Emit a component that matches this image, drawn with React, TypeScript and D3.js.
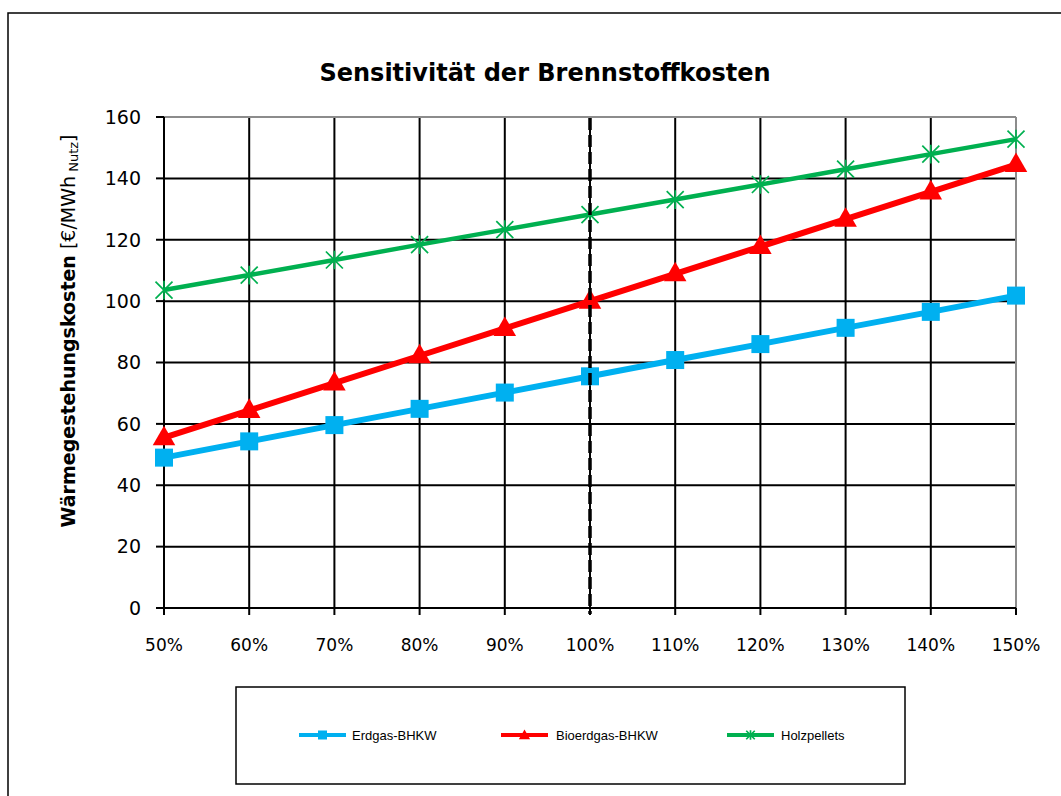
import React from "react";
import * as d3 from "d3";

const categories = ["50%", "60%", "70%", "80%", "90%", "100%", "110%", "120%", "130%", "140%", "150%"];
const erdgas = [49.0, 54.3, 59.6, 64.9, 70.2, 75.5, 80.8, 86.0, 91.3, 96.5, 101.8];
const bioerdgas = [55.5, 64.4, 73.3, 82.2, 91.1, 100.0, 108.9, 117.8, 126.7, 135.6, 144.5];
const holzpellets = [103.6, 108.5, 113.4, 118.4, 123.3, 128.2, 133.1, 138.0, 143.0, 147.9, 152.8];
const yTicks = [0, 20, 40, 60, 80, 100, 120, 140, 160];
const referenceCategory = "100%";
const title = "Sensitivität der Brennstoffkosten";

const FONT = "'DejaVu Sans', Verdana, sans-serif";

type SeriesDef = { name: string; values: number[]; color: string; width: number; marker: "square" | "triangle" | "star" };
const series: SeriesDef[] = [
  { name: "Bioerdgas-BHKW", values: bioerdgas, color: "#FF0000", width: 6, marker: "triangle" },
  { name: "Erdgas-BHKW", values: erdgas, color: "#00B0F0", width: 6, marker: "square" },
  { name: "Holzpellets", values: holzpellets, color: "#00B050", width: 4.5, marker: "star" },
];
const legendOrder = ["Erdgas-BHKW", "Bioerdgas-BHKW", "Holzpellets"];

function Marker({ kind, x, y, color, scale = 1 }: { kind: string; x: number; y: number; color: string; scale?: number }) {
  if (kind === "square") {
    const s = 18 * scale;
    return <rect x={x - s / 2} y={y - s / 2} width={s} height={s} fill={color} />;
  }
  if (kind === "triangle") {
    const p = d3.symbol(d3.symbolTriangle, 220 * scale * scale)();
    return <path d={p || ""} transform={`translate(${x},${y + 1})`} fill={color} />;
  }
  const r = 8.5 * scale;
  const d = `M${-r},${-r}L${r},${r}M${-r},${r}L${r},${-r}M0,${-r * 1.1}L0,${r * 1.1}`;
  return <path d={d} transform={`translate(${x},${y})`} stroke={color} strokeWidth={1.7} fill="none" />;
}

export default function App() {
  const left = 164, right = 1016, top = 117, bottom = 608;
  const x = d3.scalePoint<string>().domain(categories).range([left, right]);
  const y = d3.scaleLinear().domain([0, 160]).range([bottom, top]);

  const line = (vals: number[]) =>
    d3.line<number>().x((_, i) => x(categories[i]) as number).y((v) => y(v))(vals) || "";

  const legendY = 735;
  const legendItems = [
    { lx: 299, tx: 352 },
    { lx: 501, tx: 556 },
    { lx: 727, tx: 781 },
  ];

  return (
    <svg width={1061} height={796} style={{ position: "fixed", left: 0, top: 0, background: "#fff" }}>
      <rect x={0} y={0} width={1061} height={796} fill="#fff" />
      <rect x={8} y={13} width={1200} height={900} fill="#fff" stroke="#000" strokeWidth={1.5} />

      <text x={545} y={81} textAnchor="middle" fontFamily={FONT} fontWeight="bold" fontSize={24} fill="#000">
        {title}
      </text>

      {yTicks.filter((t) => t > 0 && t < 160).map((t) => (
        <line key={"h" + t} x1={left} x2={right} y1={y(t)} y2={y(t)} stroke="#000" strokeWidth={2} />
      ))}
      {categories.slice(1, -1).map((c) => (
        <line key={"v" + c} x1={x(c)} x2={x(c)} y1={top} y2={bottom} stroke="#000" strokeWidth={2} />
      ))}
      <line x1={left} x2={right} y1={top} y2={top} stroke="#8c8c8c" strokeWidth={2} />
      <line x1={right} x2={right} y1={top} y2={bottom} stroke="#8c8c8c" strokeWidth={2} />

      <line x1={left} x2={left} y1={top} y2={bottom} stroke="#000" strokeWidth={2} />
      <line x1={left} x2={right} y1={bottom} y2={bottom} stroke="#000" strokeWidth={2} />
      {yTicks.map((t) => (
        <g key={"yt" + t}>
          <line x1={left - 8} x2={left} y1={y(t)} y2={y(t)} stroke="#000" strokeWidth={2} />
          <text x={141} y={y(t)} dy="0.36em" textAnchor="end" fontFamily={FONT} fontSize={19} fill="#000">
            {t}
          </text>
        </g>
      ))}
      {categories.map((c) => (
        <g key={"xt" + c}>
          <line x1={x(c)} x2={x(c)} y1={bottom} y2={bottom + 7} stroke="#000" strokeWidth={2} />
          <text x={x(c)} y={645} dy="0.36em" textAnchor="middle" fontFamily={FONT} fontSize={17} fill="#000">
            {c}
          </text>
        </g>
      ))}

      <text
        transform={`translate(68,331) rotate(-90)`}
        textAnchor="middle"
        dy="0.35em"
        fontFamily={FONT}
        fontSize={19}
        fill="#000"
      >
        <tspan fontWeight="bold">Wärmegestehungskosten</tspan>
        <tspan> [€/MWh</tspan>
        <tspan fontSize={13} dy="3"> Nutz</tspan>
        <tspan dy="-3">]</tspan>
      </text>

      {series.map((s) => (
        <g key={s.name}>
          <path d={line(s.values)} fill="none" stroke={s.color} strokeWidth={s.width} strokeLinejoin="round" />
          {s.values.map((v, i) => (
            <Marker key={i} kind={s.marker} x={x(categories[i]) as number} y={y(v)} color={s.color} />
          ))}
        </g>
      ))}

      <line
        x1={x(referenceCategory)}
        x2={x(referenceCategory)}
        y1={top + 1}
        y2={bottom + 6}
        stroke="#000"
        strokeWidth={3.5}
        strokeDasharray="12 5"
      />

      <rect x={236} y={687} width={669} height={97} fill="#fff" stroke="#000" strokeWidth={1.5} />
      {legendOrder.map((name, i) => {
        const s = series.find((d) => d.name === name)!;
        const it = legendItems[i];
        return (
          <g key={"lg" + name}>
            <line x1={it.lx} x2={it.lx + 47} y1={legendY} y2={legendY} stroke={s.color} strokeWidth={4} />
            <Marker kind={s.marker} x={it.lx + 23.5} y={legendY} color={s.color} scale={0.5} />
            <text x={it.tx} y={legendY} dy="0.35em" fontFamily="'Liberation Sans', Arial, sans-serif" fontSize={13} fill="#000">
              {name}
            </text>
          </g>
        );
      })}
    </svg>
  );
}
